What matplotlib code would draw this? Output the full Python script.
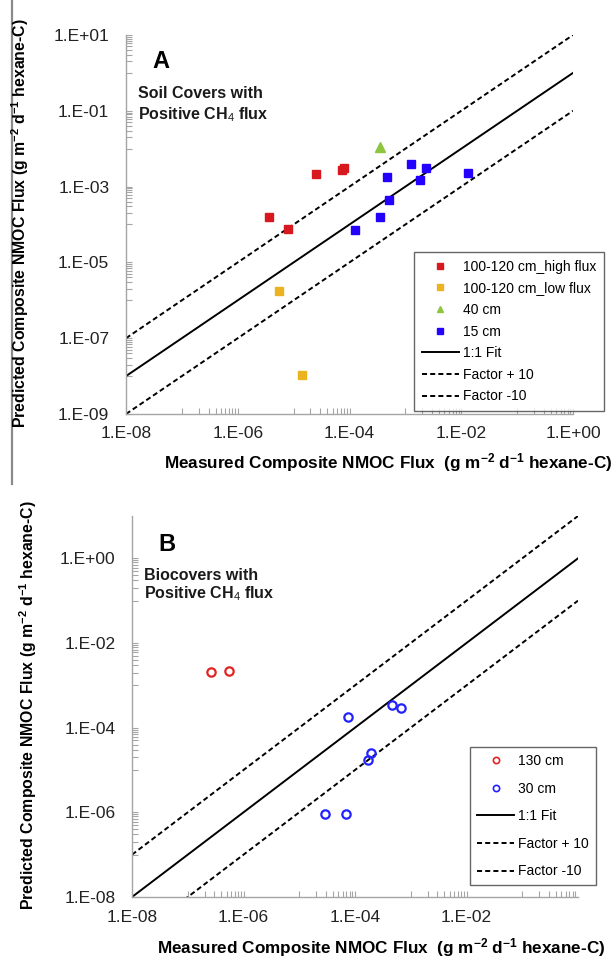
# NMOC flux: predicted vs measured (panels A and B)
import matplotlib
matplotlib.use("Agg")
import matplotlib.pyplot as plt
from matplotlib.lines import Line2D
import numpy as np

plt.rcParams['font.family'] = ['Liberation Sans', 'DejaVu Sans']
plt.rcParams['mathtext.fontset'] = 'custom'
plt.rcParams['mathtext.rm'] = 'Liberation Sans'
plt.rcParams['mathtext.bf'] = 'Liberation Sans:bold'

# ---- data panel A (soil covers) ----
a_high_x = [3.6e-6, 7.9e-6, 2.5e-5, 7.3e-5, 7.9e-5]
a_high_y = [1.58e-4, 7.6e-5, 2.19e-3, 2.74e-3, 3.15e-3]
a_low_x = [5.5e-6, 1.41e-5]
a_low_y = [1.76e-6, 1.05e-8]
a_40_x = [3.5e-4]
a_40_y = [1.11e-2]
a_15_x = [1.25e-4, 3.5e-4, 5.07e-4, 4.67e-4, 1.25e-3, 1.82e-3, 2.33e-3, 1.31e-2]
a_15_y = [7.2e-5, 1.58e-4, 4.4e-4, 1.79e-3, 3.95e-3, 1.49e-3, 3.1e-3, 2.29e-3]

# ---- data panel B (biocovers) ----
b_130_x = [2.65e-7, 5.4e-7]
b_130_y = [2.03e-3, 2.14e-3]
b_30_x = [7.5e-5, 4.65e-4, 6.75e-4, 1.71e-4, 1.94e-4, 2.88e-5, 6.9e-5]
b_30_y = [1.76e-4, 3.37e-4, 2.87e-4, 1.70e-5, 2.49e-5, 9.1e-7, 9.1e-7]

fit_x = [1e-8, 1.0]
xticks_a = [1e-8, 1e-6, 1e-4, 1e-2, 1e0]
xlabels_a = ['1.E-08', '1.E-06', '1.E-04', '1.E-02', '1.E+00']
yticks_a = [1e1, 1e-1, 1e-3, 1e-5, 1e-7, 1e-9]
ylabels_a = ['1.E+01', '1.E-01', '1.E-03', '1.E-05', '1.E-07', '1.E-09']
xticks_b = [1e-8, 1e-6, 1e-4, 1e-2]
xlabels_b = ['1.E-08', '1.E-06', '1.E-04', '1.E-02']
yticks_b = [1e0, 1e-2, 1e-4, 1e-6, 1e-8]
ylabels_b = ['1.E+00', '1.E-02', '1.E-04', '1.E-06', '1.E-08']

c_red = '#d7191f'
c_gold = '#ebb31f'
c_green = '#8cc63f'
c_blue = '#2400ff'
dash = (2.6, 1.6)
tick_font = 12.5
leg_font = 10

xlab = r'Measured Composite NMOC Flux  (g m$\mathbf{^{-2}}$ d$\mathbf{^{-1}}$ hexane-C)'
ylab = r'Predicted Composite NMOC Flux (g m$\mathbf{^{-2}}$ d$\mathbf{^{-1}}$ hexane-C)'


def minor_ticks(exps):
    return [k * 10.0 ** e for e in exps for k in range(1, 10)]


def style_axes(ax, xt, xl, yt, yl, xminor, yminor):
    ax.set_xscale('log')
    ax.set_yscale('log')
    for s in ['top', 'right']:
        ax.spines[s].set_visible(False)
    for s in ['left', 'bottom']:
        ax.spines[s].set_color('#a5a5a5')
        ax.spines[s].set_linewidth(1.0)
    ax.set_xticks(xt)
    ax.set_xticklabels(xl)
    ax.set_yticks(yt)
    ax.set_yticklabels(yl)
    ax.set_xticks(xminor, minor=True)
    ax.set_yticks(yminor, minor=True)
    ax.xaxis.set_minor_formatter(plt.NullFormatter())
    ax.yaxis.set_minor_formatter(plt.NullFormatter())
    ax.tick_params(which='both', direction='in', color='#a5a5a5', length=4, width=0.8,
                   labelsize=tick_font, labelcolor='#222222')
    ax.tick_params(axis='x', which='both', pad=9)
    ax.tick_params(axis='y', which='both', pad=12)
    ax.patch.set_alpha(0)


fig = plt.figure(figsize=(6.16, 9.6), dpi=100)

# ---------------- Panel A ----------------
ax1 = fig.add_axes([126 / 616, 1 - 414 / 960, 447 / 616, 379 / 960])
fit_y = np.array(fit_x)
ax1.plot(fit_x, fit_y * 10, color='black', lw=1.4, dashes=dash)
ax1.plot(fit_x, fit_y, color='black', lw=1.4)
ax1.plot(fit_x, fit_y / 10, color='black', lw=1.4, dashes=dash)
ax1.plot(a_high_x, a_high_y, 's', color=c_red, ms=6, ls='none')
ax1.plot(a_low_x, a_low_y, 's', color=c_gold, ms=6, ls='none')
ax1.plot(a_40_x, a_40_y, '^', color=c_green, ms=6.5, ls='none')
ax1.plot(a_15_x, a_15_y, 's', color=c_blue, ms=6, ls='none')
ax1.set_xlim(1e-8, 1e0)
ax1.set_ylim(1e-9, 1e1)
style_axes(ax1, xticks_a, xlabels_a, yticks_a, ylabels_a,
           minor_ticks([-7, -5, -3, -1]), minor_ticks([0, -2, -4, -6, -8]))
ax1.text(0.058, 0.93, 'A', transform=ax1.transAxes, fontsize=17, fontweight='bold',
         va='center', ha='left')
ax1.text(0.027, 0.845, 'Soil Covers with', transform=ax1.transAxes, fontsize=11.5,
         fontweight='semibold', va='center', ha='left', color='#1a1a1a')
ax1.text(0.027, 0.79, 'Positive CH$_4$ flux', transform=ax1.transAxes, fontsize=11.5,
         fontweight='semibold', va='center', ha='left', color='#1a1a1a')

handles_a = [
    Line2D([], [], marker='s', color=c_red, ms=4.5, ls='none'),
    Line2D([], [], marker='s', color=c_gold, ms=4.5, ls='none'),
    Line2D([], [], marker='^', color=c_green, ms=5, ls='none'),
    Line2D([], [], marker='s', color=c_blue, ms=4.5, ls='none'),
    Line2D([], [], color='black', lw=1.4),
    Line2D([], [], color='black', lw=1.4, dashes=dash),
    Line2D([], [], color='black', lw=1.4, dashes=dash),
]
labels_a = ['100-120 cm_high flux', '100-120 cm_low flux', '40 cm', '15 cm',
            '1:1 Fit', 'Factor + 10', 'Factor -10']
leg1 = fig.legend(handles_a, labels_a, loc='upper left', bbox_to_anchor=(414 / 616, 1 - 252 / 960),
                  fontsize=leg_font, frameon=True, fancybox=False, borderaxespad=0,
                  handlelength=2.7, handletextpad=0.25, labelspacing=0.55, borderpad=0.55)
leg1.get_frame().set_edgecolor('#404040')
leg1.get_frame().set_linewidth(1.0)

# ---------------- Panel B ----------------
ax2 = fig.add_axes([132 / 616, 1 - 897 / 960, 446 / 616, 381 / 960])
ax2.plot(fit_x, fit_y * 10, color='black', lw=1.4, dashes=dash)
ax2.plot(fit_x, fit_y, color='black', lw=1.4)
ax2.plot(fit_x, fit_y / 10, color='black', lw=1.4, dashes=dash)
ax2.plot(b_130_x, b_130_y, 'o', mfc='none', mec='#e02424', mew=1.6, ms=6, ls='none')
ax2.plot(b_30_x, b_30_y, 'o', mfc='none', mec='#2222ff', mew=1.6, ms=6, ls='none')
ax2.set_xlim(1e-8, 1e0)
ax2.set_ylim(1e-8, 1e1)
style_axes(ax2, xticks_b, xlabels_b, yticks_b, ylabels_b,
           minor_ticks([-7, -5, -3, -1]), minor_ticks([-1, -3, -5, -7]))
ax2.text(0.06, 0.925, 'B', transform=ax2.transAxes, fontsize=17, fontweight='bold',
         va='center', ha='left')
ax2.text(0.027, 0.845, 'Biocovers with', transform=ax2.transAxes, fontsize=11.5,
         fontweight='semibold', va='center', ha='left', color='#1a1a1a')
ax2.text(0.027, 0.795, 'Positive CH$_4$ flux', transform=ax2.transAxes, fontsize=11.5,
         fontweight='semibold', va='center', ha='left', color='#1a1a1a')

handles_b = [
    Line2D([], [], marker='o', mfc='none', mec='#e02424', mew=1.2, ms=4.5, ls='none'),
    Line2D([], [], marker='o', mfc='none', mec='#2222ff', mew=1.2, ms=4.5, ls='none'),
    Line2D([], [], color='black', lw=1.4),
    Line2D([], [], color='black', lw=1.4, dashes=dash),
    Line2D([], [], color='black', lw=1.4, dashes=dash),
]
labels_b = ['130 cm', '30 cm', '1:1 Fit', 'Factor + 10', 'Factor -10']
leg2 = fig.legend(handles_b, labels_b, loc='upper left', bbox_to_anchor=(470 / 616, 1 - 747 / 960),
                  fontsize=leg_font, frameon=True, fancybox=False, borderaxespad=0,
                  handlelength=2.7, handletextpad=0.25, labelspacing=0.98, borderpad=0.5)
leg2.get_frame().set_edgecolor('#404040')
leg2.get_frame().set_linewidth(1.0)

# axis titles
fig.text(388 / 616, 1 - 463 / 960, xlab, ha='center', va='center', fontsize=12.3, fontweight='bold')
fig.text(381 / 616, 1 - 948 / 960, xlab, ha='center', va='center', fontsize=12.3, fontweight='bold')
fig.text(20 / 616, 1 - 223 / 960, ylab, ha='center', va='center', rotation=90,
         fontsize=11.4, fontweight='bold')
fig.text(28 / 616, 1 - 705 / 960, ylab, ha='center', va='center', rotation=90,
         fontsize=11.4, fontweight='bold')

# left border line of the upper chart area
fig.add_artist(Line2D([12 / 616, 12 / 616], [1, 1 - 484 / 960], color='#8a8a8a', lw=1.6))

fig.savefig('out.png', dpi=100)
